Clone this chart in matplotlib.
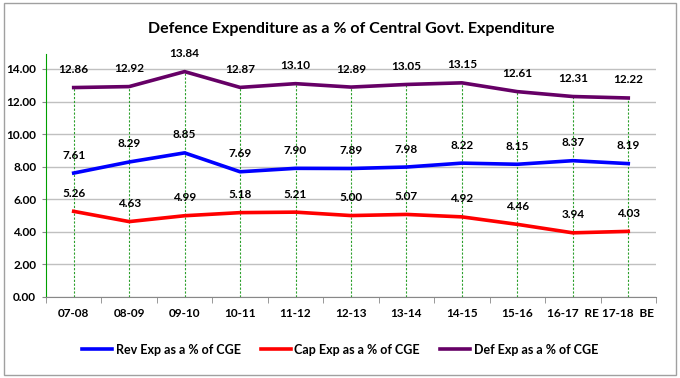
import matplotlib.pyplot as plt
from matplotlib.patches import Rectangle

years = ["07-08", "08-09", "09-10", "10-11", "11-12", "12-13",
         "13-14", "14-15", "15-16", "16-17  RE", "17-18  BE"]
rev_exp = [7.61, 8.29, 8.85, 7.69, 7.90, 7.89, 7.98, 8.22, 8.15, 8.37, 8.19]
cap_exp = [5.26, 4.63, 4.99, 5.18, 5.21, 5.00, 5.07, 4.92, 4.46, 3.94, 4.03]
def_exp = [12.86, 12.92, 13.84, 12.87, 13.10, 12.89, 13.05, 13.15, 12.61, 12.31, 12.22]

plt.rcParams["font.family"] = ["Lato", "DejaVu Sans"]
plt.rcParams["font.weight"] = "bold"

fig = plt.figure(figsize=(6.8, 3.78), dpi=100)
ax = fig.add_axes([0.0676, 0.2143, 0.8971, 0.6428])

x = list(range(len(years)))

# drop lines from the highest series down to the axis
for xi, top in zip(x, def_exp):
    ax.plot([xi, xi], [0, top], color="#2ca02c", lw=0.8, ls=(0, (2, 1.5)), zorder=1)

series = [
    (rev_exp, "#0000ff", "Rev Exp as a % of CGE"),
    (cap_exp, "#ff0000", "Cap Exp as a % of CGE"),
    (def_exp, "#660066", "Def Exp as a % of CGE"),
]
for vals, color, label in series:
    ax.plot(x, vals, color=color, lw=2.6, label=label, zorder=3)
    for xi, v in zip(x, vals):
        ax.annotate(f"{v:.2f}", (xi, v), xytext=(0, 9), textcoords="offset points",
                    ha="center", va="bottom", fontsize=8.5, fontweight="bold")

ax.set_xlim(-0.5, len(years) - 0.5)
ax.set_ylim(0, 14.92)
ax.set_yticks(range(0, 16, 2))
ax.set_yticklabels([f"{v:.2f}" for v in range(0, 16, 2)], fontsize=8.5, fontweight="bold")
ax.set_xticks(x)
ax.set_xticklabels(years, fontsize=8.5, fontweight="bold")
ax.set_xticks([i - 0.5 for i in range(len(years) + 1)], minor=True)
ax.tick_params(axis="x", which="major", length=0, pad=8)
ax.tick_params(axis="x", which="minor", length=4, color="#888888")
ax.tick_params(axis="y", length=3, color="#888888", pad=4)

ax.grid(axis="y", color="#c0c0c0", lw=1)
ax.set_axisbelow(True)
for side in ["top", "right"]:
    ax.spines[side].set_visible(False)
ax.spines["left"].set_color("#00a000")
ax.spines["bottom"].set_color("#888888")

ax.set_title("Defence Expenditure as a % of Central Govt. Expenditure",
             fontsize=11.5, fontweight="bold", pad=15)

fig.legend(loc="center", bbox_to_anchor=(0.5, 0.075), ncol=3, frameon=False,
           fontsize=9, handlelength=2.4, columnspacing=1.6, handletextpad=0.3)

fig.patches.append(Rectangle((0.006, 0.008), 0.988, 0.985, transform=fig.transFigure,
                             fill=False, edgecolor="#a0a0a0", lw=1))

fig.savefig("out.png", dpi=100)
